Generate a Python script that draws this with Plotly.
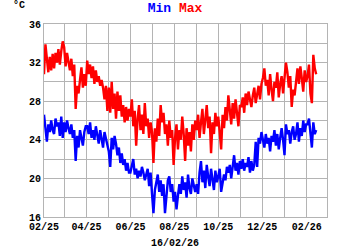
import pandas as pd
import plotly.graph_objects as go

# Daily readings sampled every 2 days, starting 2025-02-01
start_date = "2025-02-01"
tmax = (
    [30.8, 33.9, 32.4, 31.0, 32.6, 31.2, 32.9, 31.4, 33.0, 32.0, 33.4, 31.8, 33.2, 34.2]  # Feb 25
    + [33.6, 31.6, 33.0, 32.0, 31.2, 32.4, 30.6, 31.8, 27.2, 29.6, 28.8, 30.2, 31.5, 29.4, 30.8, 29.6]  # Mar
    + [32.2, 30.8, 31.8, 30.4, 31.6, 29.8, 31.2, 30.0, 30.6, 29.6, 30.2, 29.4, 28.2, 29.6, 27.0]  # Apr
    + [29.4, 26.8, 30.0, 27.2, 28.8, 26.2, 29.0, 27.0, 28.6, 26.4, 27.6, 25.8, 27.4, 26.0, 27.2]  # May
    + [26.4, 28.2, 25.4, 27.0, 23.4, 26.2, 27.6, 25.0, 26.6, 24.6, 27.8, 25.4, 26.2, 24.2, 25.8]  # Jun
    + [24.8, 21.6, 25.2, 23.8, 26.2, 24.4, 27.6, 25.8, 26.8, 24.6, 25.6, 23.4, 26.0, 24.2, 25.0, 21.4]  # Jul
    + [24.2, 25.6, 23.0, 25.0, 24.0, 26.4, 24.6, 21.8, 25.2, 23.4, 24.8, 22.8, 25.6, 24.0, 26.0]  # Aug
    + [25.0, 26.6, 24.2, 25.8, 27.2, 24.6, 26.0, 27.6, 25.2, 26.4, 22.6, 25.8, 24.6, 26.8, 25.4]  # Sep
    + [26.4, 24.8, 23.0, 26.6, 25.2, 27.4, 26.0, 28.6, 27.0, 25.6, 27.8, 26.2, 28.2, 26.8, 25.4, 27.6]  # Oct
    + [27.4, 28.4, 26.8, 28.8, 27.6, 29.0, 28.0, 27.4, 28.6, 29.4, 27.8, 28.6, 29.6, 28.2, 29.8]  # Nov
    + [30.4, 31.4, 29.6, 30.2, 28.6, 30.8, 29.2, 28.0, 30.0, 29.4, 31.0, 28.4, 29.8, 30.6, 28.8]  # Dec
    + [30.2, 32.0, 31.0, 29.4, 30.6, 27.4, 29.2, 28.6, 30.0, 31.4, 29.8, 31.6, 30.4, 29.0, 31.2, 30.0]  # Jan 26
    + [30.6, 31.8, 28.8, 27.8, 32.8, 31.4, 30.8]  # Feb 26
)
tmin = (
    [26.6, 25.2, 23.8, 25.6, 24.8, 26.0, 25.0, 24.6, 26.2, 25.4, 25.8, 24.4, 26.4, 24.2]
    + [25.8, 24.8, 26.0, 25.2, 24.6, 25.6, 24.2, 25.0, 21.8, 24.4, 23.2, 25.0, 24.0, 23.4, 24.8, 25.4]
    + [25.4, 24.6, 25.8, 24.2, 25.0, 24.0, 25.4, 24.6, 23.6, 25.0, 24.2, 23.2, 24.8, 24.0, 23.4]
    + [22.8, 21.2, 24.2, 23.0, 24.4, 23.6, 22.4, 23.2, 21.6, 22.6, 21.4, 22.0, 20.8, 21.6, 20.6]
    + [20.6, 21.2, 22.0, 20.4, 21.0, 20.0, 20.8, 20.2, 21.2, 20.6, 19.8, 20.4, 21.0, 19.2, 20.6]
    + [18.4, 16.4, 18.8, 19.6, 20.4, 18.6, 19.8, 18.2, 19.4, 16.4, 18.0, 19.8, 20.2, 18.6, 19.4, 17.6]
    + [18.6, 16.8, 18.2, 19.4, 18.4, 20.2, 18.8, 19.6, 18.0, 20.4, 19.0, 18.4, 20.0, 19.2, 18.6]
    + [19.4, 18.4, 20.6, 21.8, 19.6, 20.8, 19.0, 21.4, 20.2, 19.2, 21.0, 20.0, 18.8, 20.8, 19.6]
    + [20.2, 21.0, 18.6, 19.4, 20.4, 19.8, 21.2, 20.6, 21.4, 20.0, 21.6, 22.4, 20.8, 21.6, 20.4, 21.8]
    + [21.0, 22.0, 20.8, 21.6, 21.2, 22.2, 20.6, 21.8, 20.8, 21.4, 23.8, 21.2, 24.2, 23.6, 24.8]
    + [24.0, 23.2, 24.6, 23.6, 24.2, 22.8, 24.4, 23.8, 25.0, 23.4, 24.6, 23.0, 24.2, 25.2, 24.0]
    + [22.4, 25.6, 24.6, 25.0, 23.6, 24.8, 25.4, 24.0, 24.6, 25.8, 23.8, 25.2, 24.4, 26.0, 24.8, 25.6]
    + [25.6, 26.2, 24.6, 23.2, 25.8, 24.6, 25.0]
)
dates = pd.date_range(start_date, periods=len(tmax), freq="2D")

y_ticks = [16, 20, 24, 28, 32, 36]
x_range = ["2025-02-01", "2026-03-01"]
date_label = "16/02/26"

FONT = "Liberation Mono, Courier New, monospace"
GRID = "#b4b4b4"

fig = go.Figure()
fig.add_trace(go.Scatter(x=dates, y=tmax, mode="lines", line=dict(color="#ff0000", width=2.4), hoverinfo="skip"))
fig.add_trace(go.Scatter(x=dates, y=tmin, mode="lines", line=dict(color="#0000ff", width=2.4), hoverinfo="skip"))

fig.update_layout(
    width=350, height=250,
    margin=dict(l=44, r=23, t=24, b=33),
    paper_bgcolor="white", plot_bgcolor="white",
    showlegend=False,
    font=dict(family=FONT, size=10, color="black", weight="bold"),
    title=dict(
        text="<span style='color:#0000ff'>Min</span> <span style='color:#ff0000'>Max</span>",
        x=0.5, xanchor="center", y=1 - 7 / 250, yanchor="middle",
        font=dict(family=FONT, size=13, weight="bold"),
    ),
)
fig.update_xaxes(
    type="date", range=x_range,
    tick0="2025-02-01", dtick="M2", tickformat="%m/%y",
    showgrid=True, gridcolor=GRID, gridwidth=1,
    minor=dict(dtick="M1", tick0="2025-02-01", showgrid=True, gridcolor=GRID, gridwidth=1),
    showline=True, linecolor=GRID, linewidth=1, mirror=True,
    ticks="", zeroline=False, fixedrange=True,
)
fig.update_yaxes(
    range=[16, 36], tickvals=y_ticks,
    showgrid=True, gridcolor=GRID, gridwidth=1,
    minor=dict(dtick=2, tick0=16, showgrid=True, gridcolor=GRID, gridwidth=1),
    showline=True, linecolor=GRID, linewidth=1, mirror=True,
    ticks="", zeroline=False, fixedrange=True,
)
fig.add_annotation(text="°C", xref="paper", yref="paper", x=-(44 - 11) / 283, y=1 + (24 - 5) / 193,
                   xanchor="left", yanchor="middle", showarrow=False, font=dict(size=10))
fig.add_annotation(text=date_label, xref="paper", yref="paper", x=(175 - 44) / 283, y=-(243 - 217) / 193,
                   xanchor="center", yanchor="middle", showarrow=False, font=dict(size=10))

fig.write_html("out.html", config={"displayModeBar": False})
